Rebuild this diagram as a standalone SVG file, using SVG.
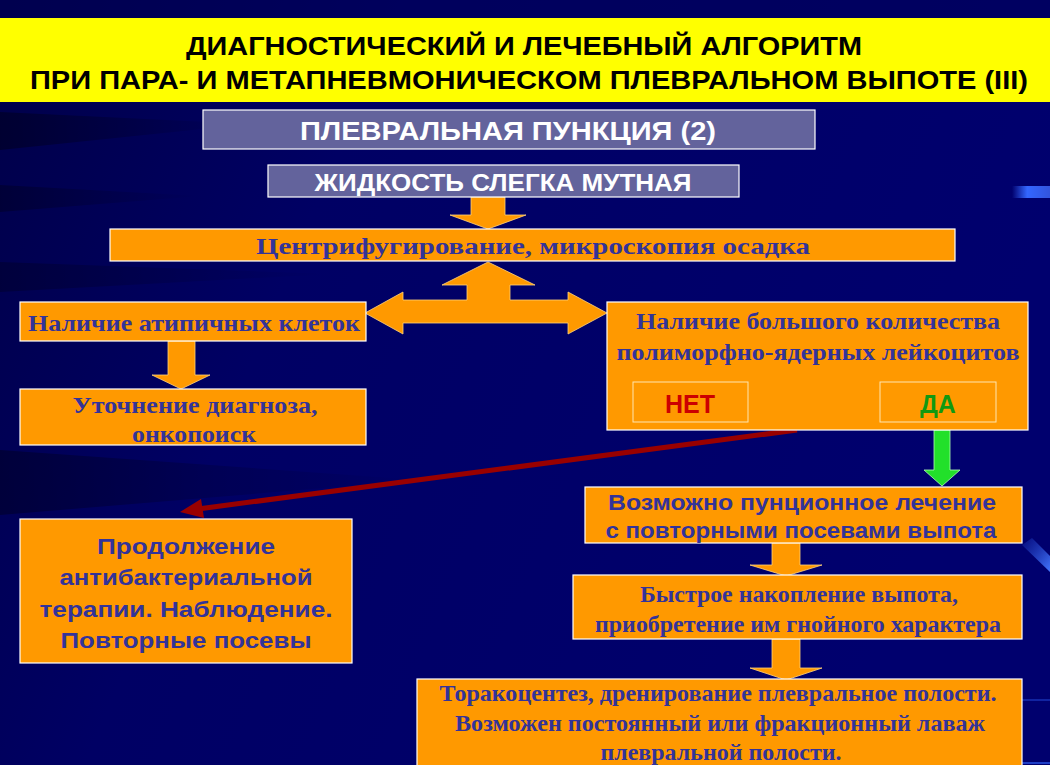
<svg xmlns="http://www.w3.org/2000/svg" width="1050" height="765" viewBox="0 0 1050 765">
<defs>
<linearGradient id="bg" x1="0" y1="0" x2="1" y2="0.3">
<stop offset="0" stop-color="#000048"/>
<stop offset="0.35" stop-color="#000064"/>
<stop offset="1" stop-color="#00006e"/>
</linearGradient>
<linearGradient id="streak" x1="0" y1="0" x2="1" y2="0">
<stop offset="0" stop-color="#3366ff" stop-opacity="0"/>
<stop offset="0.4" stop-color="#3366ff"/>
<stop offset="1" stop-color="#3355dd"/>
</linearGradient>
<linearGradient id="dark" x1="0" y1="0" x2="1" y2="0">
<stop offset="0" stop-color="#000000" stop-opacity="0.7"/>
<stop offset="1" stop-color="#000000" stop-opacity="0"/>
</linearGradient>
<linearGradient id="diag" x1="0" y1="0" x2="1" y2="1">
<stop offset="0" stop-color="#2244cc" stop-opacity="0.2"/>
<stop offset="1" stop-color="#4477ff"/>
</linearGradient>
<style>
.box{fill:#ff9900;stroke:#ffffff;stroke-width:1.2}
.gbox{fill:#63639c;stroke:#ffffff;stroke-width:1.2}
.sub{fill:none;stroke:#ffe6b0;stroke-width:1}
.arr{fill:#ff9900;stroke:#ffd27a;stroke-width:0.8}
.ser{font-family:"Liberation Serif","Times New Roman",serif;font-weight:bold;font-size:23px;fill:#333399;text-anchor:middle}
.san{font-family:"Liberation Sans",Arial,sans-serif;font-weight:bold;font-size:22px;fill:#333399;text-anchor:middle}
.ttl{font-family:"Liberation Sans Narrow","Liberation Sans",Arial,sans-serif;font-weight:bold;font-size:26px;fill:#000000;text-anchor:middle}
.wht{font-family:"Liberation Sans Narrow","Liberation Sans",Arial,sans-serif;font-weight:bold;fill:#ffffff;text-anchor:middle}
</style>
</defs>
<g id="background">
<rect x="0" y="0" width="1050" height="765" fill="url(#bg)"/>
<polygon points="0,112 250,124 0,150" fill="url(#dark)" opacity="0.5"/>
<polygon points="0,185 200,196 0,212" fill="url(#dark)" opacity="0.4"/>
<polygon points="0,262 330,274 0,292" fill="url(#dark)" opacity="0.35"/>
<polygon points="0,450 420,480 0,515" fill="url(#dark)" opacity="0.45"/>
<rect x="0" y="0" width="1050" height="18" fill="#000055" opacity="0.5"/>
<rect x="1012" y="186" width="38" height="12" fill="url(#streak)"/>
<polygon points="1022,545 1032,538 1050,556 1050,572" fill="url(#diag)"/>
<line x1="1022" y1="700" x2="1050" y2="700" stroke="#3366ff" stroke-width="1" opacity="0.7"/>
<line x1="1022" y1="763" x2="1050" y2="763" stroke="#3366ff" stroke-width="2" opacity="0.6"/>
</g>
<g id="title">
<rect x="0" y="18" width="1050" height="84" fill="#ffff00"/>
<text class="ttl" x="524" y="55" textLength="676" lengthAdjust="spacingAndGlyphs">ДИАГНОСТИЧЕСКИЙ И ЛЕЧЕБНЫЙ АЛГОРИТМ</text>
<text class="ttl" x="529" y="89" textLength="998" lengthAdjust="spacingAndGlyphs">ПРИ ПАРА- И МЕТАПНЕВМОНИЧЕСКОМ ПЛЕВРАЛЬНОМ ВЫПОТЕ (III)</text>
</g>
<g id="connectors">
<polygon class="arr" points="471,197 505,197 505,215 526,215 488,229 450,215 471,215"/>
<polygon class="arr" points="488,262 535,285 510,285 510,300 568,300 568,292 607,313 568,334 568,323 403,323 403,334 365,313 403,292 403,300 467,300 467,285 442,285"/>
<polygon class="arr" points="168,341 195,341 195,375 210,375 181,389 152,375 168,375"/>
<polygon points="934,430 950,430 950,470 960,470 942,486 924,470 934,470" fill="#22e02a" stroke="#b0ffb0" stroke-width="0.8"/>
<polygon class="arr" points="772,543 800,543 800,565 822,565 786,576 750,565 772,565"/>
<polygon class="arr" points="772,639 800,639 800,668 822,668 786,680 750,668 772,668"/>
<line x1="797" y1="430" x2="198" y2="509" stroke="#990000" stroke-width="5"/>
<polygon points="180,512 201,499 204,518" fill="#990000"/>
</g>
<g id="n-puncture">
<rect class="gbox" x="203" y="110" width="612" height="39"/>
<text class="wht" x="508" y="140" font-size="26" textLength="416" lengthAdjust="spacingAndGlyphs">ПЛЕВРАЛЬНАЯ ПУНКЦИЯ (2)</text>
</g>
<g id="n-fluid">
<rect class="gbox" x="268" y="165" width="471" height="32"/>
<text class="wht" x="503" y="191" font-size="24" textLength="377" lengthAdjust="spacingAndGlyphs">ЖИДКОСТЬ СЛЕГКА МУТНАЯ</text>
</g>
<g id="n-centrifuge">
<rect class="box" x="110" y="229" width="845" height="32"/>
<text class="ser" x="533" y="254" font-size="24" textLength="554" lengthAdjust="spacingAndGlyphs">Центрифугирование, микроскопия осадка</text>
</g>
<g id="n-atypical">
<rect class="box" x="20" y="302" width="346" height="39"/>
<text class="ser" x="194" y="331" textLength="332" lengthAdjust="spacingAndGlyphs">Наличие атипичных клеток</text>
</g>
<g id="n-diagnosis">
<rect class="box" x="20" y="389" width="346" height="56"/>
<text class="ser" x="195" y="413" textLength="245" lengthAdjust="spacingAndGlyphs">Уточнение диагноза,</text>
<text class="ser" x="194" y="442" textLength="124" lengthAdjust="spacingAndGlyphs">онкопоиск</text>
</g>
<g id="n-leukocytes">
<rect class="box" x="607" y="302" width="421" height="128"/>
<text class="ser" x="818" y="329" textLength="364" lengthAdjust="spacingAndGlyphs">Наличие большого количества</text>
<text class="ser" x="818" y="360" textLength="403" lengthAdjust="spacingAndGlyphs">полиморфно-ядерных лейкоцитов</text>
<rect class="sub" x="633" y="382" width="115" height="40"/>
<text x="690" y="413" font-family="Liberation Sans, Arial, sans-serif" font-weight="bold" font-size="25" fill="#cc0000" text-anchor="middle">НЕТ</text>
<rect class="sub" x="880" y="382" width="116" height="40"/>
<text x="938" y="413" font-family="Liberation Sans, Arial, sans-serif" font-weight="bold" font-size="25" fill="#119911" text-anchor="middle">ДА</text>
</g>
<g id="n-continue">
<rect class="box" x="20" y="519" width="332" height="144"/>
<text class="san" x="186" y="554" font-size="23" textLength="178" lengthAdjust="spacingAndGlyphs">Продолжение</text>
<text class="san" x="186" y="585" font-size="23" textLength="253" lengthAdjust="spacingAndGlyphs">антибактериальной</text>
<text class="san" x="186" y="617" font-size="23" textLength="293" lengthAdjust="spacingAndGlyphs">терапии. Наблюдение.</text>
<text class="san" x="186" y="648" font-size="23" textLength="251" lengthAdjust="spacingAndGlyphs">Повторные посевы</text>
</g>
<g id="n-puncture-treatment">
<rect class="box" x="585" y="487" width="437" height="56"/>
<text class="san" x="802" y="510" font-size="21" textLength="388" lengthAdjust="spacingAndGlyphs">Возможно пунционное лечение</text>
<text class="san" x="801" y="538" font-size="21" textLength="391" lengthAdjust="spacingAndGlyphs">с повторными посевами выпота</text>
</g>
<g id="n-accumulation">
<rect class="box" x="573" y="575" width="449" height="64"/>
<text class="ser" x="799" y="602" textLength="318" lengthAdjust="spacingAndGlyphs">Быстрое накопление выпота,</text>
<text class="ser" x="798" y="632" textLength="406" lengthAdjust="spacingAndGlyphs">приобретение им гнойного характера</text>
</g>
<g id="n-thoracocentesis">
<rect class="box" x="417" y="679" width="605" height="92"/>
<text class="ser" x="718" y="701" textLength="557" lengthAdjust="spacingAndGlyphs">Торакоцентез, дренирование плевральное полости.</text>
<text class="ser" x="720" y="731" textLength="530" lengthAdjust="spacingAndGlyphs">Возможен постоянный или фракционный лаваж</text>
<text class="ser" x="721" y="760" textLength="241" lengthAdjust="spacingAndGlyphs">плевральной полости.</text>
</g>
</svg>
